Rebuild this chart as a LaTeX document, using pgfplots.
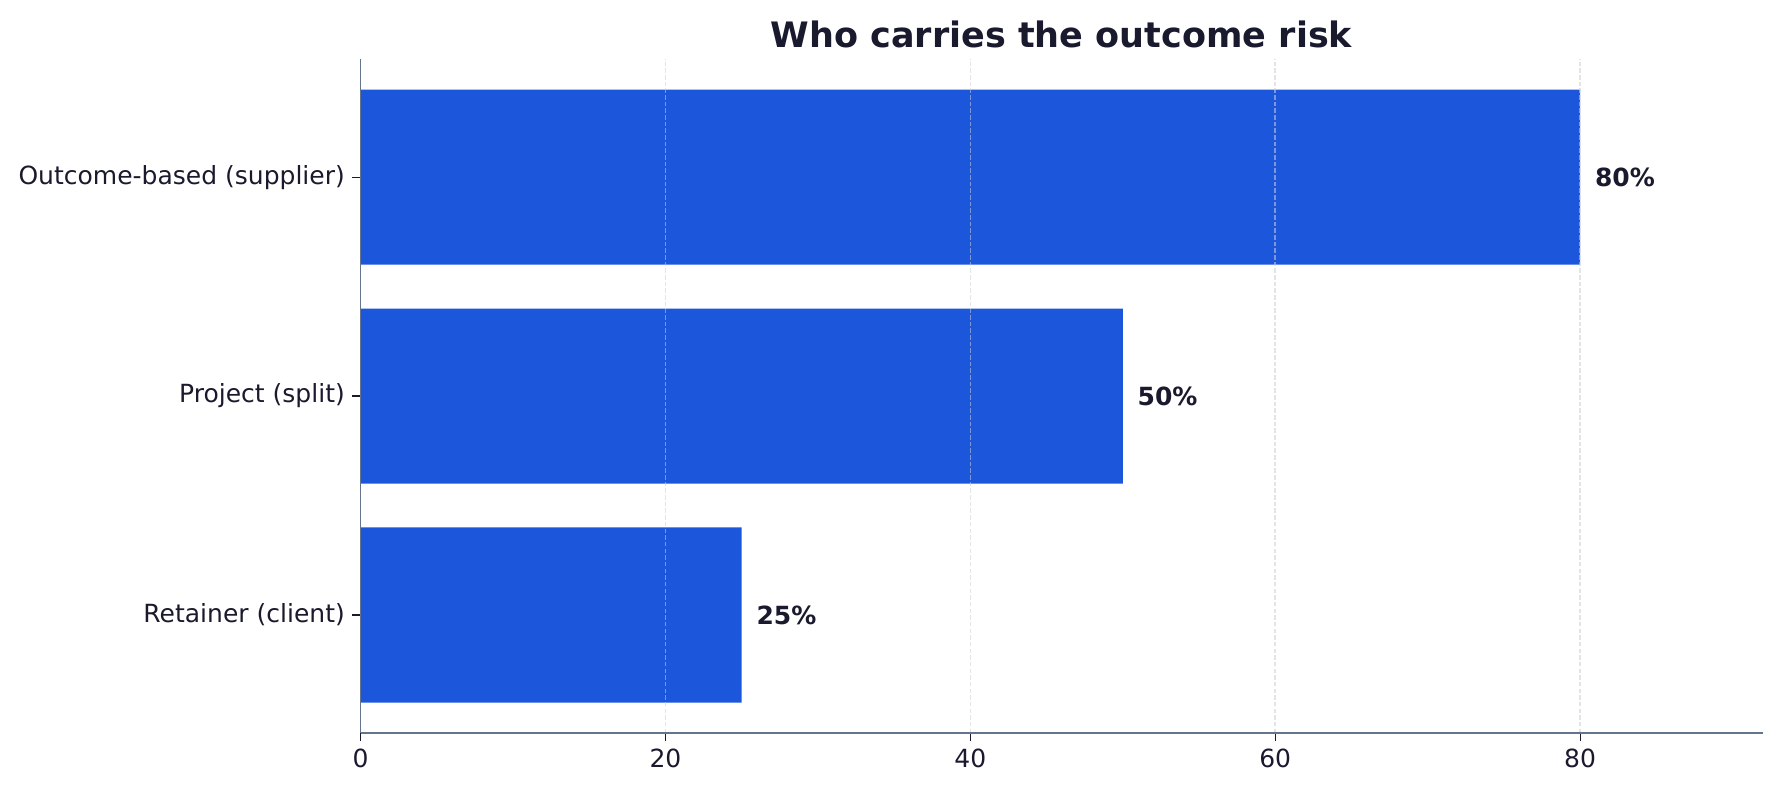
\documentclass[border=0pt]{standalone}
\usepackage{pgfplots}
\pgfplotsset{compat=1.18}
\usepackage{fontspec}
\setmainfont{DejaVu Sans}
\definecolor{barblue}{HTML}{1C56DB}
\definecolor{ink}{HTML}{1A1A2E}
\definecolor{spine}{HTML}{64748B}
\definecolor{gridc}{HTML}{CBD0D6}
\begin{document}
\begin{tikzpicture}
\useasboundingbox (-173pt,-28.3pt) rectangle (681.6pt,351.8pt);
\begin{axis}[
  at={(0,0)}, anchor=south west,
  scale only axis, width=673pt, height=323.5pt,
  xbar, bar width=0.8,
  xmin=0, xmax=92, ymin=-0.54, ymax=2.54,
  ytick={0,1,2},
  yticklabels={Retainer (client), Project (split), Outcome-based (supplier)},
  xtick={0,20,40,60,80},
  axis on top,
  axis x line*=bottom, axis y line*=left,
  x axis line style={spine, line width=0.9pt, -},
  y axis line style={spine, line width=0.8pt, -},
  xmajorgrids, grid style={dash pattern=on 2.2pt off 1pt, gridc, opacity=0.55, line width=0.8pt},
  tick align=outside, major tick length=4pt,
  tick style={ink, line width=0.6pt},
  ticklabel style={font=\fontsize{12}{14}\selectfont, text=ink},
  /pgf/number format/assume math mode=true,
  title={\textbf{Who carries the outcome risk}},
  title style={font=\fontsize{16.8}{20}\selectfont, text=ink, at={(0.5,1)}, anchor=center, yshift=6pt},
  nodes near coords={\textbf{\pgfmathprintnumber{\pgfplotspointmeta}\%}},
  every node near coord/.append style={font=\fontsize{12}{14}\selectfont, text=ink, xshift=3.6pt},
]
\addplot[fill=barblue, draw=none] coordinates {(25,0) (50,1) (80,2)};
\end{axis}
\end{tikzpicture}
\end{document}
